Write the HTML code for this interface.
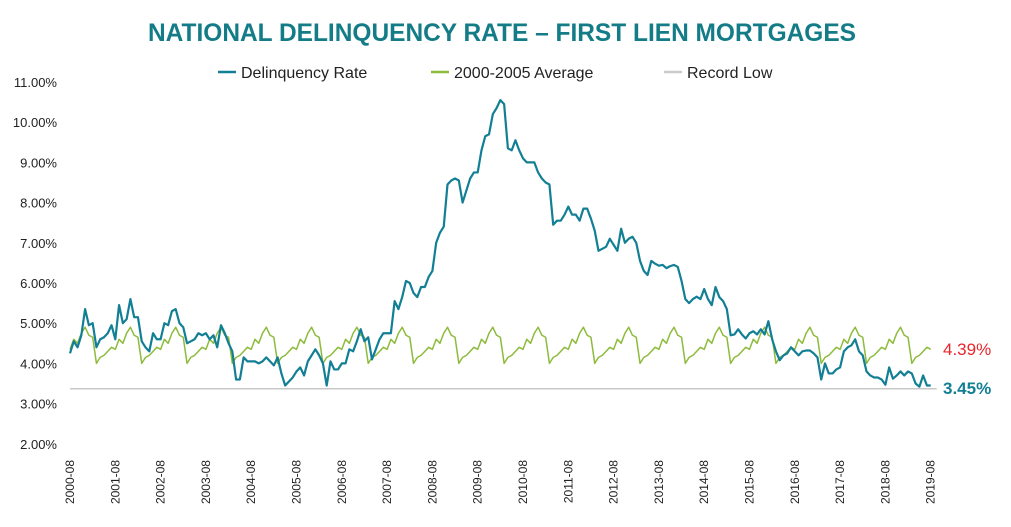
<!DOCTYPE html>
<html><head><meta charset="utf-8"><style>
html,body{margin:0;padding:0;background:#fff;}
svg{display:block;font-family:"Liberation Sans",Arial,sans-serif;}
</style></head><body>
<svg id="chart" width="1011" height="527" viewBox="0 0 1011 527">
<rect x="0" y="0" width="1011" height="527" fill="#fff"/>
<text x="502" y="41" text-anchor="middle" font-size="25" font-weight="bold" fill="#137c87" textLength="708" lengthAdjust="spacingAndGlyphs">NATIONAL DELINQUENCY RATE – FIRST LIEN MORTGAGES</text>
<g font-size="16" fill="#222">
<g><line x1="218" y1="72" x2="236" y2="72" stroke="#127f95" stroke-width="2.5"/><text x="241" y="78">Delinquency Rate</text></g>
<g><line x1="431" y1="72" x2="449" y2="72" stroke="#8dbb3c" stroke-width="2.5"/><text x="454" y="78">2000-2005 Average</text></g>
<g><line x1="664" y1="72" x2="682" y2="72" stroke="#ccc" stroke-width="2.5"/><text x="687" y="78">Record Low</text></g>
</g>
<g id="yaxis"></g>
<g id="xaxis"></g>
<g id="series"></g>
<text x="943" y="355" font-size="17" fill="#e8262b">4.39%</text>
<text x="943" y="394" font-size="17" font-weight="bold" fill="#127f95">3.45%</text>
</svg>
<script>
const startYear = 2000, startMonth = 8;
const yTicks = [2,3,4,5,6,7,8,9,10,11];
const delinquencyRate = [
4.25,4.55,4.4,4.7,5.35,
4.95,5.0,4.4,4.6,4.65,4.75,4.95,4.6,5.45,5.0,5.1,5.6,
5.15,5.15,4.55,4.4,4.3,4.75,4.6,4.6,5.0,4.95,5.3,5.35,
5.0,4.9,4.5,4.55,4.6,4.75,4.7,4.75,4.6,4.7,4.4,4.95,
4.75,4.5,4.3,3.6,3.6,4.15,4.05,4.05,4.05,4.0,4.05,4.15,
4.05,3.95,4.15,3.75,3.45,3.55,3.65,3.8,3.9,3.7,4.05,4.2,
4.35,4.2,4.0,3.45,4.05,3.85,3.85,4.0,4.0,4.35,4.3,4.55,
4.85,4.55,4.65,4.1,4.35,4.6,4.75,4.75,4.75,5.55,5.35,5.65,
6.05,6.0,5.75,5.65,5.9,5.9,6.15,6.3,7.0,7.25,7.4,8.45,
8.55,8.6,8.55,8.0,8.3,8.6,8.75,8.75,9.3,9.65,9.7,10.2,
10.35,10.55,10.45,9.35,9.3,9.55,9.3,9.1,9.0,9.0,9.0,8.75,
8.6,8.5,8.45,7.45,7.55,7.55,7.7,7.9,7.7,7.7,7.55,7.85,
7.85,7.6,7.3,6.8,6.85,6.9,7.1,6.95,6.8,7.35,7.0,7.1,
7.15,7.0,6.55,6.3,6.2,6.55,6.48,6.43,6.45,6.37,6.42,6.45,
6.4,6.05,5.6,5.5,5.6,5.66,5.6,5.85,5.6,5.45,5.9,5.65,
5.55,5.35,4.7,4.72,4.85,4.72,4.62,4.75,4.8,4.72,4.85,4.72,
5.05,4.6,4.3,4.08,4.2,4.25,4.4,4.3,4.2,4.3,4.32,4.32,
4.25,4.15,3.6,4.0,3.75,3.75,3.85,3.9,4.3,4.4,4.45,4.6,
4.3,4.2,3.8,3.7,3.65,3.65,3.6,3.47,3.9,3.62,3.7,3.8,
3.7,3.8,3.75,3.5,3.42,3.7,3.45,3.45
];
// 2000-2005 monthly average, Jan..Dec
const averageByMonth = [4.7,4.65,4.0,4.15,4.2,4.3,4.4,4.35,4.6,4.5,4.75,4.9];
const recordLow = 3.37;

const svg = document.getElementById('chart');
const NS = 'http://www.w3.org/2000/svg';
const x0 = 70, monthW = 3.775, yTop = 82, pxPer = 40.2, yMax = 11;
const xScale = i => x0 + i * monthW;
const yScale = v => yTop + (yMax - v) * pxPer;
function mk(tag, attrs, parent){ const e = document.createElementNS(NS, tag); for (const k in attrs) e.setAttribute(k, attrs[k]); parent.appendChild(e); return e; }

const ya = document.getElementById('yaxis');
yTicks.forEach(t => {
  const e = mk('text', {x: 57, y: yScale(t) + 5, 'text-anchor': 'end', 'font-size': 13, fill: '#222'}, ya);
  e.textContent = t.toFixed(2) + '%';
  
  
});

const xa = document.getElementById('xaxis');
for (let i = 0; i < delinquencyRate.length; i += 12) {
  const yr = startYear + Math.floor((startMonth - 1 + i) / 12);
  const x = xScale(i) + 4;
  const e = mk('text', {x: x, y: 460, 'text-anchor': 'end', 'font-size': 12, fill: '#222', transform: 'rotate(-90 ' + x + ' 460)'}, xa);
  e.textContent = yr + '-0' + startMonth;
  
  
}

const g = document.getElementById('series');
const rl = mk('line', {x1: xScale(0), x2: xScale(delinquencyRate.length - 1) + 6, y1: yScale(recordLow), y2: yScale(recordLow), stroke: '#c8c8c8', 'stroke-width': 1.5}, g);



const avgPts = delinquencyRate.map((_, i) => xScale(i) + ',' + yScale(averageByMonth[(startMonth - 1 + i) % 12])).join(' ');
const al = mk('polyline', {points: avgPts, fill: 'none', stroke: '#8dbb3c', 'stroke-width': 1.5, 'stroke-linejoin': 'round'}, g);



const dPts = delinquencyRate.map((v, i) => xScale(i) + ',' + yScale(v)).join(' ');
const dl = mk('polyline', {points: dPts, fill: 'none', stroke: '#127f95', 'stroke-width': 2.2, 'stroke-linejoin': 'round'}, g);


</script>
</body></html>
